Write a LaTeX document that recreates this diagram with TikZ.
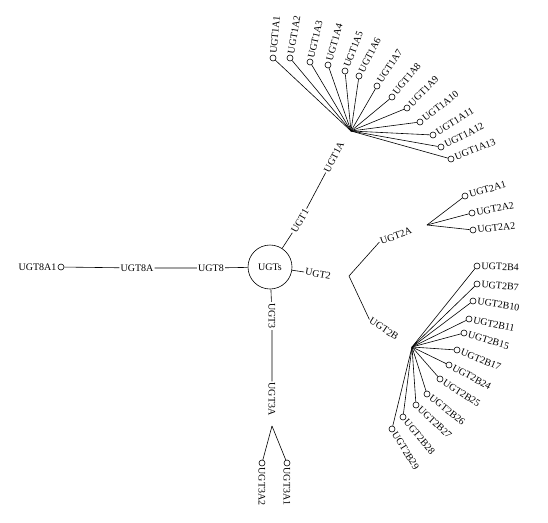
\documentclass[tikz,border=0pt]{standalone}
\usepackage{fontspec}
\setmainfont{Liberation Serif}
\tikzset{%
	ugt root/.style={
		circle,
		draw=black,
		minimum size=44pt,
		inner sep=0pt,
		font=\fontsize{10}{12}\selectfont
	},
	ugt label/.style={
		inner sep=1pt,
		font=\fontsize{10}{12}\selectfont
	},
	ugt leaf/.style={
		circle,
		draw=black,
		fill=white,
		inner sep=0pt,
		minimum size=6pt
	},
}

\begin{document}
\begin{tikzpicture}[x=1pt, y=-1pt, line width=0.6pt]
		\useasboundingbox (0,0) rectangle (548,522);
		% Root
		\node [ugt root] (ugts) at (270,267) {UGTs};
		
		% Families
		\node [ugt label, rotate=60] (ugt1) at (300,221) {UGT1};
		\node [ugt label, rotate=63] (ugt1a) at (334,157) {UGT1A};
		\coordinate (hub-1a) at (351,131);
		
		\node [ugt label, rotate=-10] (ugt2) at (318,274) {UGT2};
		\coordinate (split-2) at (349,276);
		\node [ugt label, rotate=20] (ugt2a) at (396,236) {UGT2A};
		\coordinate (hub-2a) at (427,225);
		\node [ugt label, rotate=-33] (ugt2b) at (384,329) {UGT2B};
		\coordinate (hub-2b) at (412,347);
		
		\node [ugt label, rotate=-90] (ugt3) at (272,316) {UGT3};
		\node [ugt label, rotate=-90] (ugt3a) at (272,399) {UGT3A};
		\coordinate (split-3) at (272,426);
		
		\node [ugt label] (ugt8) at (211,268) {UGT8};
		\node [ugt label] (ugt8a) at (137,268) {UGT8A};
		
		% Leaves
		\foreach \m/\x/\y/\a in {1/273/58/85, 2/290/58/80, 3/310/62/77, 4/328/65/74,
			5/345/71/69, 6/359/76/63, 7/377/86/57, 8/392/97/51, 9/407/108/45,
			10/420/122/38, 11/433/135/32, 12/441/147/27, 13/451/159/22}
		{
			\node [ugt leaf] (ugt1a-\m) at (\x,\y) {};
			\node [ugt label, rotate=\a, anchor=west] at (ugt1a-\m.\a) {UGT1A\m};
		}
		
		\foreach \m/\t/\x/\y/\a in {1/1/465/196/16, 2/2/472/213/10, 3/2/473/230/6}
		{
			\node [ugt leaf] (ugt2a-\m) at (\x,\y) {};
			\node [ugt label, rotate=\a, anchor=west] at (ugt2a-\m.\a) {UGT2A\t};
		}
		
		\foreach \m/\x/\y/\a in {4/477/266/-2, 7/477/284/-5, 10/473/301/-8,
			11/469/319/-12, 15/464/333/-17, 17/457/350/-22, 24/449/365/-28,
			25/440/379/-33, 26/427/394/-38, 27/416/405/-43, 28/403/417/-50,
			29/392/429/-58}
		{
			\node [ugt leaf] (ugt2b-\m) at (\x,\y) {};
			\node [ugt label, rotate=\a, anchor=west] at (ugt2b-\m.\a) {UGT2B\m};
		}
		
		\foreach \m/\x in {1/287,2/262}
		{
			\node [ugt leaf] (ugt3a-\m) at (\x,463) {};
			\node [ugt label, rotate=-90, anchor=west] at (ugt3a-\m.south) {UGT3A\m};
		}
		
		\node [ugt leaf] (ugt8a-1) at (61,267) {};
		\node [ugt label, anchor=east] at (ugt8a-1.west) {UGT8A1};
		
		%Edges
		\draw (ugts) -- (ugt1) -- (ugt1a);
		\draw (ugts) -- (ugt2);
		\draw (ugt2a.west) -- (split-2) -- (ugt2b.west);
		\draw (ugts) -- (ugt3) -- (ugt3a);
		\draw (ugts) -- (ugt8) -- (ugt8a) -- (ugt8a-1);
		
		\foreach \m in {1,2,...,13}
		\draw (hub-1a) -- (ugt1a-\m);
		
		\foreach \m in {1,2,3}
		\draw (hub-2a) -- (ugt2a-\m);
		
		\foreach \m in {4,7,10,11,15,17,24,25,26,27,28,29}
		\draw (hub-2b) -- (ugt2b-\m);
		
		\foreach \m in {1,2}
		\draw (split-3) -- (ugt3a-\m);
		
		\end{tikzpicture}
\end{document}
